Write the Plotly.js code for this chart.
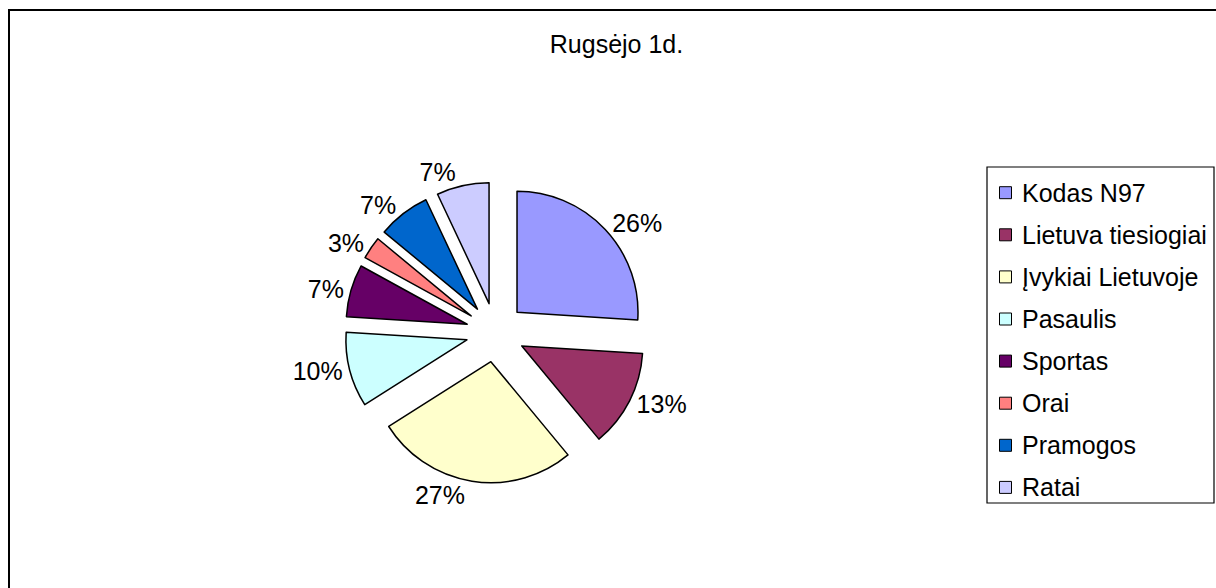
<!DOCTYPE html>
<html>
<head>
<meta charset="utf-8">
<script src="https://cdn.plot.ly/plotly-3.0.1.min.js"></script>
<style>
  html, body { margin: 0; padding: 0; background: #fff; }
  #chart { width: 1216px; height: 588px; }
</style>
</head>
<body>
<div id="chart"></div>
<script>
// ---- data ----
const chartTitle = "Rugsėjo 1d.";
const labels = ["Kodas N97", "Lietuva tiesiogiai", "Įvykiai Lietuvoje", "Pasaulis", "Sportas", "Orai", "Pramogos", "Ratai"];
const values = [26, 13, 27, 10, 7, 3, 7, 7];
const colors = ["#9999FF", "#993366", "#FFFFCC", "#CCFFFF", "#660066", "#FF8080", "#0066CC", "#CCCCFF"];

// ---- layout helpers (pixel -> paper) ----
const W = 1216, H = 588;
const px = x => x / W;
const py = y => 1 - y / H;
const FONT = "Liberation Sans, Arial, sans-serif";

const pull = 0.244;
const cx = 495.5, cy = 332.5, half = 150.5;

const trace = {
  type: "pie",
  labels: labels,
  values: values,
  sort: false,
  direction: "clockwise",
  rotation: 0,
  pull: labels.map(() => pull),
  marker: { colors: colors, line: { color: "#000", width: 1.5 } },
  textposition: "outside",
  texttemplate: "%{value}%",
  textfont: { family: FONT, size: 25, color: "#000" },
  hoverinfo: "none",
  showlegend: false,
  domain: { x: [px(cx - half), px(cx + half)], y: [py(cy + half), py(cy - half)] }
};

// legend drawn with shapes + annotations
const legX = 1005.5, legY0 = 192.7, legStep = 42.1, sq = 6;
const shapes = [
  { type: "rect", xref: "paper", yref: "paper", x0: px(9), x1: 1.05, y0: -0.05, y1: py(10),
    line: { color: "#000", width: 2 }, fillcolor: "rgba(0,0,0,0)" },
  { type: "rect", xref: "paper", yref: "paper", x0: px(987), x1: px(1214), y0: py(503), y1: py(167),
    line: { color: "#000", width: 1.2 }, fillcolor: "rgba(0,0,0,0)" }
];
const annotations = [];
labels.forEach((lab, i) => {
  const y = legY0 + legStep * i;
  shapes.push({ type: "rect", xref: "paper", yref: "paper",
    x0: px(legX - sq), x1: px(legX + sq), y0: py(y + sq), y1: py(y - sq),
    line: { color: "#000", width: 1 }, fillcolor: colors[i] });
  annotations.push({ xref: "paper", yref: "paper", x: px(1020), y: py(y), xanchor: "left", yanchor: "middle",
    text: lab, showarrow: false, font: { family: FONT, size: 25, color: "#000" } });
});

const layout = {
  width: W, height: H,
  margin: { l: 0, r: 0, t: 0, b: 0 },
  paper_bgcolor: "#fff",
  title: { text: chartTitle, x: px(616.5), xanchor: "center", xref: "paper",
           y: 1 - 44 / H, yanchor: "middle", yref: "container",
           font: { family: FONT, size: 25, color: "#000" } },
  shapes: shapes,
  annotations: annotations,
  showlegend: false
};

Plotly.newPlot("chart", [trace], layout, { displayModeBar: false, staticPlot: true });
</script>
</body>
</html>
